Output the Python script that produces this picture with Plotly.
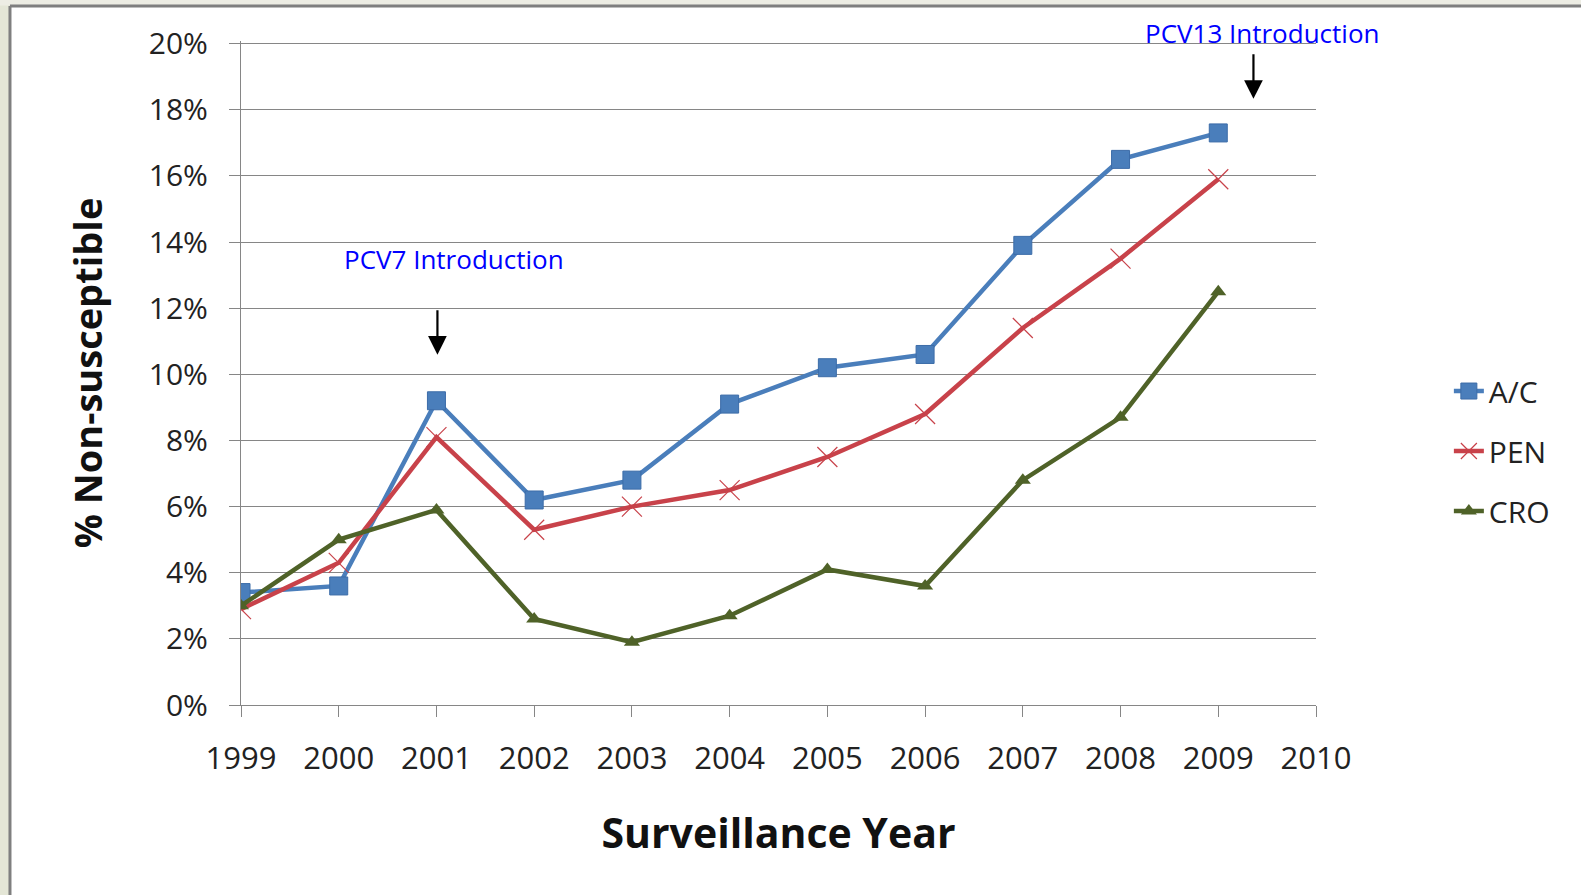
import plotly.graph_objects as go

years = [1999, 2000, 2001, 2002, 2003, 2004, 2005, 2006, 2007, 2008, 2009]
ac_vals = [0.034, 0.036, 0.092, 0.062, 0.068, 0.091, 0.102, 0.106, 0.139, 0.165, 0.173]
pen_vals = [0.029, 0.043, 0.081, 0.053, 0.060, 0.065, 0.075, 0.088, 0.114, 0.135, 0.159]
cro_vals = [0.030, 0.050, 0.059, 0.026, 0.019, 0.027, 0.041, 0.036, 0.068, 0.087, 0.125]
series_names = ["A/C", "PEN", "CRO"]
x_ticks = list(range(1999, 2011))
y_ticks = [0, 0.02, 0.04, 0.06, 0.08, 0.10, 0.12, 0.14, 0.16, 0.18, 0.20]

FONT = "Open Sans"
fig = go.Figure()

fig.add_trace(go.Scatter(
    x=years, y=ac_vals, name=series_names[0], mode="lines+markers",
    line=dict(color="#4A7EBB", width=4.5),
    marker=dict(symbol="square", size=18, color="#4A7EBB",
                line=dict(color="#3C6CA8", width=1)),
    legendgroup="a"))
fig.add_trace(go.Scatter(
    x=years, y=pen_vals, name=series_names[1], mode="lines+markers",
    line=dict(color="#C8424A", width=4.5),
    marker=dict(symbol="x-thin", size=20, color="#C8424A",
                line=dict(color="#C8424A", width=1.2)),
    legendgroup="b"))
fig.add_trace(go.Scatter(
    x=years, y=cro_vals, name=series_names[2], mode="lines+markers",
    line=dict(color="#4F6228", width=4.5),
    marker=dict(symbol="triangle-up", size=14, color="#4F6228"),
    legendgroup="c"))

# plot area: x 241..1316 px, y 41..705 px (range slightly above 20% so the top gridline shows)
fig.update_layout(
    width=1581, height=895,
    margin=dict(l=241, r=265, t=41, b=190, autoexpand=False),
    paper_bgcolor="white", plot_bgcolor="white",
    font=dict(family=FONT, color="#222222"),
    showlegend=True,
    legend=dict(x=1.1236, y=0.512, xanchor="left", yanchor="top",
                font=dict(family=FONT, size=30, color="#222222"),
                tracegroupgap=18, bgcolor="rgba(0,0,0,0)"),
    xaxis=dict(range=[1999, 2010], tickvals=x_ticks, ticktext=[str(v) for v in x_ticks],
               showgrid=False, zeroline=False, showline=True, linecolor="#868686", linewidth=1.3,
               ticks="outside", ticklen=11, tickcolor="#868686", tickwidth=1.3,
               tickfont=dict(family=FONT, size=31, color="#222222"),
               ticklabelstandoff=15,
               title=dict(text="<b>Surveillance Year</b>", standoff=41,
                          font=dict(family=FONT, size=41, color="#111111")),
               automargin=False),
    yaxis=dict(range=[0, 0.2008], tickvals=y_ticks, tickformat=".0%",
               showgrid=True, gridcolor="#868686", gridwidth=1.3,
               zeroline=False, showline=True, linecolor="#868686", linewidth=1.3,
               ticks="outside", ticklen=11, tickcolor="#868686", tickwidth=1.3,
               tickfont=dict(family=FONT, size=30, color="#222222"),
               ticklabelstandoff=15,
               title=dict(text="<b>% Non-susceptible</b>", standoff=34,
                          font=dict(family=FONT, size=38, color="#111111")),
               automargin=False),
)

# PCV annotations
fig.add_annotation(x=2001.18, y=0.1348, xref="x", yref="y", text="PCV7 Introduction",
                   xanchor="center", yanchor="middle",
                   showarrow=False, font=dict(family=FONT, size=26, color="#0000FF"))
fig.add_annotation(x=2001.01, y=0.1059, xref="x", yref="y", text="", showarrow=True,
                   ax=0, ay=-46, arrowhead=2, arrowsize=1.7, arrowwidth=2.2, arrowcolor="black")
fig.add_annotation(x=0.9495, y=1.0116, xref="paper", yref="paper", text="PCV13 Introduction",
                   xanchor="center", yanchor="middle",
                   showarrow=False, font=dict(family=FONT, size=26, color="#0000FF"))
fig.add_annotation(x=2009.36, y=0.1833, xref="x", yref="y", text="", showarrow=True,
                   ax=0, ay=-46, arrowhead=2, arrowsize=1.7, arrowwidth=2.2, arrowcolor="black")

# slide frame: light background strip on the left/top and a gray border
fig.add_shape(type="rect", xref="paper", yref="paper", x0=-0.25, x1=-0.2149, y0=-0.4, y1=1.1,
              fillcolor="#E4E6D6", line=dict(width=0), layer="above")
fig.add_shape(type="rect", xref="paper", yref="paper", x0=-0.25, x1=1.3, y0=1.0535, y1=1.1,
              fillcolor="#EDEDE4", line=dict(width=0), layer="above")
fig.add_shape(type="line", xref="paper", yref="paper", x0=-0.2149, x1=-0.2149, y0=-0.4, y1=1.0527,
              line=dict(color="#7F7F7F", width=3), layer="above")
fig.add_shape(type="line", xref="paper", yref="paper", x0=-0.2149, x1=1.3, y0=1.0527, y1=1.0527,
              line=dict(color="#7F7F7F", width=3), layer="above")

fig.write_html("out.html", config={"displayModeBar": False},
               post_script="document.body.style.margin='0';document.body.style.overflow='hidden';")
